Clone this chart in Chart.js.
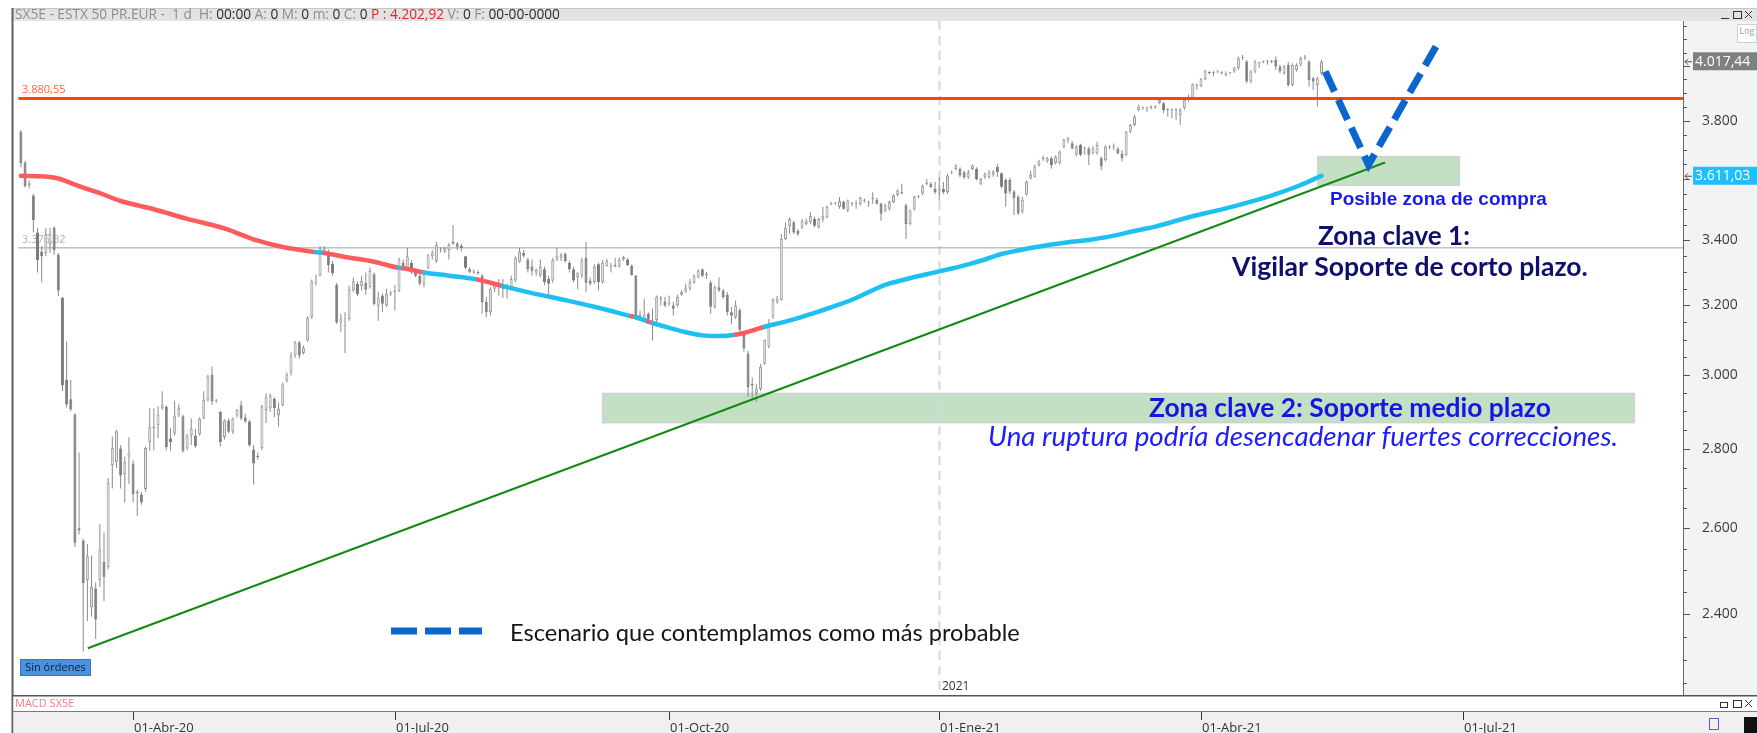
<!DOCTYPE html>
<html>
<head>
<meta charset="utf-8">
<title>SX5E - ESTX 50 PR.EUR</title>
<script src="https://cdn.jsdelivr.net/npm/chart.js@4.4.1/dist/chart.umd.min.js"></script>
<style>
  html, body { margin: 0; padding: 0; background: #fff; overflow: hidden; }
  canvas { display: block; }
</style>
</head>
<body>
<canvas id="chart" width="1757" height="733"></canvas>
<script>
// daily candles, index 0 = 24-Feb-2020 (trading sessions only)
const open = [
  3762,3655,3578,3545,3425,3365,3360,3388,3440,3355,
  3222,2985,2932,2890,2600,2570,2478,2415,2458,2477,
  2520,2508,2757,2766,2801,2735,2780,2762,2690,2683,
  2697,2818,2855,2862,2908,2911,2827,2840,2888,2886,
  2801,2835,2835,2838,2880,2931,3000,2928,2898,2831,
  2875,2845,2888,2916,2883,2872,2798,2782,2802,2903,
  2908,2933,2888,2916,2983,3006,3054,3092,3061,3097,
  3166,3268,3290,3365,3365,3326,3262,3150,3140,3160,
  3245,3265,3258,3268,3255,3294,3199,3230,3200,3235,
  3240,3244,3330,3314,3330,3305,3290,3263,3312,3350,
  3335,3368,3365,3370,3395,3390,3382,3350,3310,3302,
  3300,3290,3210,3180,3250,3258,3262,3250,3255,3275,
  3333,3360,3340,3318,3300,3290,3310,3280,3275,3340,
  3345,3358,3330,3310,3285,3290,3345,3275,3270,3325,
  3270,3320,3320,3322,3318,3340,3340,3320,3290,3168,
  3160,3175,3147,3157,3222,3212,3205,3200,3200,3232,
  3242,3250,3268,3285,3310,3292,3269,3196,3255,3245,
  3232,3180,3165,3186,3113,3060,2975,2948,2960,3031,
  3080,3167,3211,3216,3404,3445,3458,3430,3442,3452,
  3458,3468,3442,3468,3474,3516,3519,3507,3524,3496,
  3517,3518,3516,3528,3520,3534,3531,3518,3496,3502,
  3524,3546,3556,3513,3452,3502,3541,3551,3583,3584,
  3567,3562,3567,3556,3622,3634,3634,3623,3606,3634,
  3634,3584,3606,3606,3614,3641,3619,3597,3597,3558,
  3541,3492,3548,3602,3608,3647,3668,3659,3670,3653,
  3653,3710,3733,3722,3682,3716,3704,3704,3687,3687,
  3670,3664,3707,3710,3704,3687,3682,3762,3786,3839,
  3845,3845,3845,3850,3863,3863,3839,3838,3839,3821,
  3845,3875,3881,3926,3926,3951,3975,3974,3979,3974,
  3968,3973,3979,3991,4029,4016,3942,3979,4010,4016,
  4016,4017,4022,3998,3973,4004,3930,3985,4004,4029,
  4016,3954,3930,3973
];
const high = [
  3768,3662,3595,3550,3440,3382,3440,3440,3445,3360,
  3225,3095,2985,2895,2790,2575,2562,2535,2472,2610,
  2590,2725,2832,2850,2810,2780,2830,2770,2695,2690,
  2806,2908,2908,2913,2954,2916,2854,2928,2918,2890,
  2838,2880,2853,2883,2954,3000,3023,2933,2900,2878,
  2880,2883,2906,2928,2893,2876,2810,2790,2917,2948,
  2948,2938,2923,2978,3006,3063,3096,3096,3083,3168,
  3278,3293,3382,3382,3372,3335,3268,3175,3180,3260,
  3284,3272,3290,3300,3315,3300,3240,3236,3250,3244,
  3262,3345,3340,3376,3338,3312,3300,3306,3356,3370,
  3396,3378,3380,3392,3448,3395,3390,3352,3316,3310,
  3306,3295,3225,3255,3268,3280,3280,3265,3290,3350,
  3376,3370,3345,3340,3312,3340,3318,3290,3345,3376,
  3360,3362,3336,3318,3300,3345,3396,3285,3325,3330,
  3338,3342,3330,3345,3345,3352,3345,3325,3292,3185,
  3220,3180,3190,3230,3228,3225,3230,3210,3232,3245,
  3265,3280,3295,3310,3312,3302,3275,3260,3285,3250,
  3240,3195,3215,3192,3120,3068,2992,2975,3030,3100,
  3160,3222,3228,3420,3458,3474,3463,3436,3468,3470,
  3490,3475,3472,3507,3512,3524,3524,3540,3528,3532,
  3524,3529,3542,3535,3529,3556,3538,3522,3518,3529,
  3549,3566,3584,3518,3500,3545,3546,3582,3600,3590,
  3590,3606,3590,3618,3629,3650,3640,3628,3630,3650,
  3640,3604,3622,3630,3630,3652,3622,3602,3605,3563,
  3547,3541,3595,3628,3648,3665,3680,3675,3676,3680,
  3698,3738,3745,3730,3715,3720,3710,3710,3712,3727,
  3676,3716,3716,3721,3708,3699,3766,3790,3822,3858,
  3852,3851,3856,3855,3881,3869,3845,3845,3845,3845,
  3880,3895,3935,3935,3955,3986,3980,3980,3984,3980,
  3980,3977,3996,4035,4041,4022,3985,4022,4016,4020,
  4022,4022,4035,4004,4004,4016,4010,4010,4035,4041,
  4022,3960,3960,4022
];
const low = [
  3640,3572,3568,3425,3300,3270,3350,3360,3355,3228,
  2955,2910,2900,2555,2585,2318,2385,2395,2345,2462,
  2430,2502,2698,2750,2698,2663,2710,2663,2630,2658,
  2690,2795,2796,2828,2903,2796,2795,2835,2884,2790,
  2796,2810,2802,2834,2878,2926,2917,2923,2806,2824,
  2841,2839,2883,2876,2868,2805,2708,2772,2797,2868,
  2898,2884,2858,2913,2978,2998,3048,3046,3058,3093,
  3160,3260,3288,3358,3300,3290,3145,3121,3061,3155,
  3240,3228,3245,3232,3250,3200,3155,3180,3195,3228,
  3185,3240,3312,3308,3295,3285,3260,3255,3310,3340,
  3330,3362,3360,3340,3385,3370,3365,3310,3298,3295,
  3293,3175,3165,3170,3240,3230,3222,3220,3245,3270,
  3330,3345,3300,3290,3290,3285,3260,3230,3268,3335,
  3335,3330,3300,3270,3248,3282,3240,3260,3265,3245,
  3265,3318,3300,3315,3315,3335,3320,3290,3160,3155,
  3158,3150,3097,3150,3200,3195,3198,3170,3195,3228,
  3238,3245,3265,3282,3285,3280,3175,3190,3240,3220,
  3170,3145,3160,3120,3065,2939,2935,2925,2955,3028,
  3075,3160,3205,3215,3400,3420,3420,3414,3436,3448,
  3452,3442,3438,3458,3470,3513,3515,3502,3498,3490,
  3510,3502,3512,3522,3508,3518,3515,3463,3490,3496,
  3520,3542,3550,3404,3448,3496,3536,3546,3578,3570,
  3550,3529,3550,3550,3617,3630,3606,3600,3600,3630,
  3595,3580,3600,3602,3608,3608,3569,3508,3550,3481,
  3481,3486,3545,3598,3604,3642,3662,3655,3635,3650,
  3650,3705,3722,3700,3676,3678,3682,3647,3684,3682,
  3630,3659,3700,3699,3684,3659,3678,3758,3782,3835,
  3840,3833,3842,3844,3860,3828,3816,3810,3804,3786,
  3840,3870,3878,3912,3922,3948,3968,3962,3973,3968,
  3962,3969,3975,3986,4022,3936,3936,3973,3991,4010,
  4004,4010,3985,3973,3967,3924,3924,3979,3998,4022,
  3924,3911,3851,3965
];
const close = [
  3653,3577,3586,3465,3338,3350,3420,3420,3370,3245,
  2970,2918,2906,2565,2595,2470,2533,2462,2388,2549,
  2485,2713,2802,2846,2731,2766,2790,2684,2687,2663,
  2802,2858,2857,2890,2916,2804,2818,2888,2908,2795,
  2835,2853,2807,2880,2931,2996,2926,2926,2818,2875,
  2845,2880,2903,2880,2872,2810,2762,2778,2913,2938,
  2943,2908,2906,2973,3001,3054,3092,3054,3076,3164,
  3273,3271,3374,3375,3323,3298,3150,3162,3142,3249,
  3273,3234,3274,3247,3304,3204,3224,3205,3234,3238,
  3244,3340,3315,3350,3305,3290,3265,3300,3353,3362,
  3386,3370,3376,3385,3390,3380,3376,3314,3302,3300,
  3298,3210,3180,3250,3262,3268,3250,3255,3280,3345,
  3365,3352,3310,3305,3308,3318,3270,3265,3338,3352,
  3355,3335,3310,3275,3300,3340,3268,3265,3318,3270,
  3330,3335,3318,3320,3340,3348,3322,3292,3163,3172,
  3172,3160,3150,3226,3220,3200,3206,3190,3226,3240,
  3254,3270,3288,3305,3290,3295,3196,3255,3245,3225,
  3180,3170,3200,3128,3075,2966,2970,2962,3022,3099,
  3138,3216,3221,3404,3440,3468,3425,3420,3463,3463,
  3479,3447,3468,3479,3507,3518,3520,3527,3502,3529,
  3518,3519,3538,3529,3521,3535,3518,3485,3512,3524,
  3546,3562,3551,3452,3496,3540,3542,3578,3584,3573,
  3556,3563,3556,3612,3623,3645,3612,3606,3623,3645,
  3600,3600,3617,3623,3624,3624,3574,3552,3558,3536,
  3486,3530,3591,3614,3642,3659,3671,3670,3647,3676,
  3693,3733,3733,3704,3710,3682,3706,3682,3704,3716,
  3642,3710,3708,3711,3687,3670,3762,3786,3816,3851,
  3846,3846,3851,3849,3875,3839,3838,3837,3838,3839,
  3875,3887,3932,3927,3951,3980,3974,3973,3980,3973,
  3967,3974,3991,4029,4030,3942,3979,4016,4011,4017,
  4017,4016,3998,3979,3998,3930,4004,4004,4029,4030,
  3948,3942,3954,4017
];

// long moving average at these sessions
const maIdx = [0,8,14,19,24,32,40,49,56,63,71,73,78,85,91,92,97,103,110,116,
  123,131,139,147,148,151,152,156,160,164,168,172,176,179,184,188,192,196,200,204,
  208,212,216,220,224,228,232,236,240,244,248,252,257,263,268,273,280,285,290,296,
  302,308,313];
const maVal = [3611,3605,3576,3553,3527,3500,3469,3438,3403,3379,3363,3360,3348,3333,3314,3313,3300,3290,3278,3258,
  3237,3216,3193,3168,3165,3152,3148,3134,3121,3112,3110,3114,3126,3137,3152,3166,3182,3199,3217,3240,
  3262,3276,3289,3300,3312,3325,3340,3357,3368,3378,3387,3394,3401,3415,3430,3444,3470,3487,3503,3525,
  3550,3580,3611];
// stretches where the average is painted red
const maRed = [[0, 71], [73, 91], [92, 97], [110, 116], [147, 148], [151, 152], [172, 179]];

const resistance = 3880.55;
const pivot = 3376.32;
const trendIdx = [16.1, 328.3];
const trendVal = [2325, 3656];
const scenarioIdx = [313.9, 324.3, 341.2];
const scenarioVal = [3979, 3648, 4091];
// green zones: from session, to session, low, high
const zones = [[312.1, 346.2, 3579, 3676], [140, 388.3, 2869, 2948]];

const dateTickIdx = [27, 90, 156, 221, 284, 347];
const dateTickLbl = ['01-Abr-20', '01-Jul-20', '01-Oct-20', '01-Ene-21', '01-Abr-21', '01-Jul-21'];
const yearIdx = 221;
const lastClose = 4017.44;
const lastMA = 3611.03;

const W = 1757, H = 733;
const fmt = v => {
  const n = Math.round(v);
  return Math.floor(n / 1000) + '.' + String(n % 1000).padStart(3, '0');
};
const fmt2 = v => {
  const p = v.toFixed(2).split('.');
  return fmt(+p[0]) + ',' + p[1];
};

// minor ticks every 50, labels every 200
const yTicks = [];
for (let v = 2250; v <= 4150; v += 50) yTicks.push(v);

function fitText(c, s, x, y, w, style, family, color) {
  c.font = style + ' 20px ' + family;
  const size = 20 * w / c.measureText(s).width;
  c.font = style + ' ' + size.toFixed(2) + 'px ' + family;
  c.fillStyle = color;
  c.textAlign = 'left';
  c.textBaseline = 'middle';
  c.fillText(s, x, y);
}

const frame = {
  id: 'frame',
  beforeDraw(chart) {
    const c = chart.ctx, a = chart.chartArea;
    c.save();
    c.fillStyle = '#fff';
    c.fillRect(0, 0, W, H);
    // header band
    c.fillStyle = '#e3e3e3';
    c.fillRect(12, 8, W - 12, 13);
    c.fillStyle = '#c6c6c6';
    c.fillRect(12, 8, W - 12, 1);
    // price axis panel
    c.fillStyle = '#f2f3f5';
    c.fillRect(a.right, a.top, W - a.right, a.bottom - a.top);
    c.restore();
  },
  beforeDatasetsDraw(chart) {
    const c = chart.ctx, a = chart.chartArea;
    const x = chart.scales.x, y = chart.scales.y;
    c.save();
    zones.forEach(z => {
      const x0 = x.getPixelForValue(z[0]), x1 = x.getPixelForValue(z[1]);
      const y0 = y.getPixelForValue(z[3]), y1 = y.getPixelForValue(z[2]);
      c.fillStyle = '#c3dfc4';
      c.fillRect(x0, y0, x1 - x0, y1 - y0);
      c.strokeStyle = '#cdd3cd';
      c.lineWidth = 1.5;
      c.strokeRect(x0, y0, x1 - x0, y1 - y0);
    });
    // year separator
    const yx = Math.round(x.getPixelForValue(yearIdx)) + 0.5;
    c.strokeStyle = '#d8d8d8';
    c.lineWidth = 2;
    c.setLineDash([9, 6]);
    c.beginPath();
    c.moveTo(yx, a.top);
    c.lineTo(yx, a.bottom);
    c.stroke();
    c.setLineDash([]);
    // level labels
    c.font = '11px "Open Sans"';
    c.textAlign = 'left';
    c.textBaseline = 'middle';
    c.fillStyle = '#b4b4b4';
    c.fillText(fmt2(pivot), 22, y.getPixelForValue(pivot) - 8);
    c.fillStyle = '#ff6633';
    c.fillText(fmt2(resistance), 22, y.getPixelForValue(resistance) - 9);
    c.restore();
  },
  afterDatasetsDraw(chart) {
    const c = chart.ctx;
    const x = chart.scales.x;
    c.save();
    fitText(c, 'Posible zona de compra', 1330, 200, 217, 'bold', '"Liberation Sans"', '#1a1ae6');
    fitText(c, 'Zona clave 1:', 1318, 237, 152, 'bold', 'Lato', '#0f0f6e');
    fitText(c, 'Vigilar Soporte de corto plazo.', 1232, 267, 356, 'bold', 'Lato', '#0f0f6e');
    fitText(c, 'Zona clave 2: Soporte medio plazo', 1149, 408, 402, 'bold', 'Lato', '#1616e4');
    fitText(c, 'Una ruptura podría desencadenar fuertes correcciones.', 988, 437, 630, 'italic', 'Lato', '#1c1cff');
    fitText(c, 'Escenario que contemplamos como más probable', 510, 633, 510, 'normal', 'Lato', '#151515');
    // legend sample of the scenario line
    c.strokeStyle = '#0a66cc';
    c.lineWidth = 7;
    c.setLineDash([26, 8]);
    c.beginPath();
    c.moveTo(391, 631);
    c.lineTo(482, 631);
    c.stroke();
    c.setLineDash([]);
    // "Sin órdenes" tag
    c.fillStyle = '#4a92e0';
    c.fillRect(20, 659, 71, 17);
    c.strokeStyle = '#3a78c4';
    c.lineWidth = 1;
    c.strokeRect(20.5, 659.5, 70, 16);
    c.fillStyle = '#101c38';
    c.font = '11px "Open Sans"';
    c.textAlign = 'center';
    c.textBaseline = 'middle';
    c.fillText('Sin órdenes', 55.5, 668);
    // year label
    c.fillStyle = '#333';
    c.font = '12px "Open Sans"';
    c.textAlign = 'left';
    c.fillText('2021', Math.round(x.getPixelForValue(yearIdx)) + 3, 687);
    c.restore();
  },
  afterDraw(chart) {
    const c = chart.ctx, a = chart.chartArea;
    const x = chart.scales.x, y = chart.scales.y;
    c.save();
    // axis line and tick marks
    c.fillStyle = '#6a6a6a';
    c.fillRect(a.right, a.top, 1, a.bottom - a.top);
    c.fillStyle = '#555';
    yTicks.forEach(v => {
      const py = Math.round(y.getPixelForValue(v));
      const len = v % 200 === 0 ? 7 : 4;
      c.fillRect(a.right, py, len, 1);
    });
    // last value tags
    [[lastClose, '#808080'], [lastMA, '#1ec0ff']].forEach(t => {
      const py = y.getPixelForValue(t[0]);
      c.fillStyle = t[1];
      c.fillRect(1693, py - 9, 64, 18);
      c.fillStyle = '#fff';
      c.font = '14px "Open Sans"';
      c.textAlign = 'left';
      c.textBaseline = 'middle';
      c.fillText(fmt2(t[0]), 1695, py + 0.5);
      c.strokeStyle = '#555';
      c.lineWidth = 1;
      c.beginPath();
      c.moveTo(1685, py + 0.5); c.lineTo(1692, py + 0.5);
      c.moveTo(1688, py - 2.5); c.lineTo(1685, py + 0.5); c.lineTo(1688, py + 3.5);
      c.stroke();
    });
    // Log button
    c.fillStyle = '#fff';
    c.fillRect(1737, 24, 20, 19);
    c.strokeStyle = '#cfcfcf';
    c.strokeRect(1737.5, 24.5, 19, 18);
    c.fillStyle = '#9a9a9a';
    c.font = '9px "Open Sans"';
    c.textAlign = 'center';
    c.fillText('Log', 1747, 31);
    // header text
    const g = '#8c8c8c', d = '#2b2b2b';
    const parts = [['SX5E - ESTX 50 PR.EUR -  1 d  H: ', g], ['00:00', d], [' A: ', g], ['0', d], [' M: ', g], ['0', d],
      [' m: ', g], ['0', d], [' C: ', g], ['0', d], [' P : 4.202,92', '#e3262b'], [' V: ', g], ['0', d], [' F: ', g], ['00-00-0000', d]];
    c.font = '13px "Open Sans"';
    const tot = parts.reduce((s, p) => s + c.measureText(p[0]).width, 0);
    const fs = 13 * 545 / tot;
    c.font = fs.toFixed(2) + 'px "Open Sans"';
    c.textAlign = 'left';
    c.textBaseline = 'middle';
    let hx = 15;
    parts.forEach(p => {
      c.fillStyle = p[1];
      c.fillText(p[0], hx, 15);
      hx += c.measureText(p[0]).width;
    });
    // window buttons
    c.strokeStyle = '#333';
    c.lineWidth = 1;
    c.beginPath();
    c.moveTo(1721, 18.5); c.lineTo(1729, 18.5);
    c.moveTo(1745, 11); c.lineTo(1752, 18); c.moveTo(1752, 11); c.lineTo(1745, 18);
    c.stroke();
    c.strokeRect(1733.5, 11.5, 8, 7);
    // left border and bottom panels
    c.fillStyle = '#5f5f5f';
    c.fillRect(11.5, 8, 2, H - 8);
    c.fillStyle = '#fff';
    c.fillRect(13.5, a.bottom, W - 13.5, 17);
    c.fillStyle = '#555';
    c.fillRect(12, a.bottom, W - 12, 1.5);
    c.fillStyle = '#f0f0f0';
    c.fillRect(13.5, 712, W - 13.5, H - 712);
    c.fillStyle = '#7a7a7a';
    c.fillRect(12, 711, W - 12, 1);
    c.fillStyle = '#f08080';
    c.font = '11px "Open Sans"';
    c.fillText('MACD SX5E', 15, 704);
    c.strokeStyle = '#333';
    c.beginPath();
    c.moveTo(1745, 700); c.lineTo(1752, 707); c.moveTo(1752, 700); c.lineTo(1745, 707);
    c.stroke();
    c.strokeRect(1733.5, 700.5, 8, 7);
    c.strokeRect(1720.5, 702.5, 7, 5);
    // date axis
    c.fillStyle = '#333';
    c.font = '13px "Open Sans"';
    c.textBaseline = 'top';
    dateTickIdx.forEach((idx, k) => {
      const px = Math.round(x.getPixelForValue(idx));
      c.fillRect(px, 712, 1, 8);
      c.fillText(dateTickLbl[k], px + 1, 722);
    });
    c.fillStyle = '#111';
    c.fillRect(1744, 717, 13, 16);
    c.strokeStyle = '#7a4fc8';
    c.strokeRect(1709.5, 718.5, 9, 11);
    c.restore();
  }
};

const bodyData = open.map((o, i) => ({x: i, y: [o, close[i]]}));
const wickData = open.map((o, i) => ({x: i, y: [low[i], high[i]]}));
const up = i => close[i] >= open[i];

new Chart(document.getElementById('chart'), {
  type: 'bar',
  data: {
    datasets: [
      {
        type: 'line', order: 0,
        data: scenarioIdx.map((v, k) => ({x: v, y: scenarioVal[k]})),
        borderColor: '#0a66cc', borderWidth: 7, borderDash: [22, 9], borderCapStyle: 'butt',
        pointRadius: 0, tension: 0
      },
      {
        type: 'line', order: 1,
        data: trendIdx.map((v, k) => ({x: v, y: trendVal[k]})),
        borderColor: '#138a13', borderWidth: 2, pointRadius: 0
      },
      {
        type: 'line', order: 2,
        data: maIdx.map((v, k) => ({x: v, y: maVal[k]})),
        borderWidth: 4.5, pointRadius: 0, borderJoinStyle: 'round', borderCapStyle: 'round',
        cubicInterpolationMode: 'monotone',
        borderColor: '#1ec0f4',
        segment: {
          borderColor: s => maRed.some(r => s.p0.parsed.x >= r[0] && s.p1.parsed.x <= r[1]) ? '#ff5b5b' : '#1ec0f4'
        }
      },
      {
        type: 'line', order: 3,
        data: [{x: -0.6, y: resistance}, {x: 400, y: resistance}],
        borderColor: '#ff4500', borderWidth: 3, pointRadius: 0
      },
      {
        order: 4, grouped: false, maxBarThickness: 3, minBarLength: 1,
        data: bodyData,
        backgroundColor: ctx => up(ctx.dataIndex) ? '#e9e9e9' : '#7b7b7b',
        borderColor: ctx => up(ctx.dataIndex) ? '#9b9b9b' : '#7b7b7b',
        borderWidth: 1, borderSkipped: false
      },
      {
        order: 5, grouped: false, maxBarThickness: 1,
        data: wickData,
        backgroundColor: '#8a8a8a', borderWidth: 0
      },
      {
        type: 'line', order: 6,
        data: [{x: -0.6, y: pivot}, {x: 400, y: pivot}],
        borderColor: '#a0a0a0', borderWidth: 1, pointRadius: 0
      }
    ]
  },
  options: {
    responsive: false,
    animation: false,
    events: [],
    layout: {padding: {left: 13, top: 21, bottom: 38, right: 0}},
    plugins: {legend: {display: false}, tooltip: {enabled: false}},
    scales: {
      x: {
        type: 'linear', min: -1.9, max: 400, bounds: 'data', offset: false, display: false
      },
      y: {
        type: 'logarithmic', position: 'right', min: 2226, max: 4171, bounds: 'data',
        afterBuildTicks: s => { s.ticks = yTicks.map(v => ({value: v})); },
        afterFit: s => { s.width = 74; },
        grid: {display: false},
        border: {display: false},
        ticks: {
          autoSkip: false, padding: 11, color: '#3c3c3c',
          font: {family: 'Open Sans', size: 14},
          callback: v => v % 200 === 0 ? fmt(v) : ''
        }
      }
    }
  },
  plugins: [frame]
});
</script>
</body>
</html>
